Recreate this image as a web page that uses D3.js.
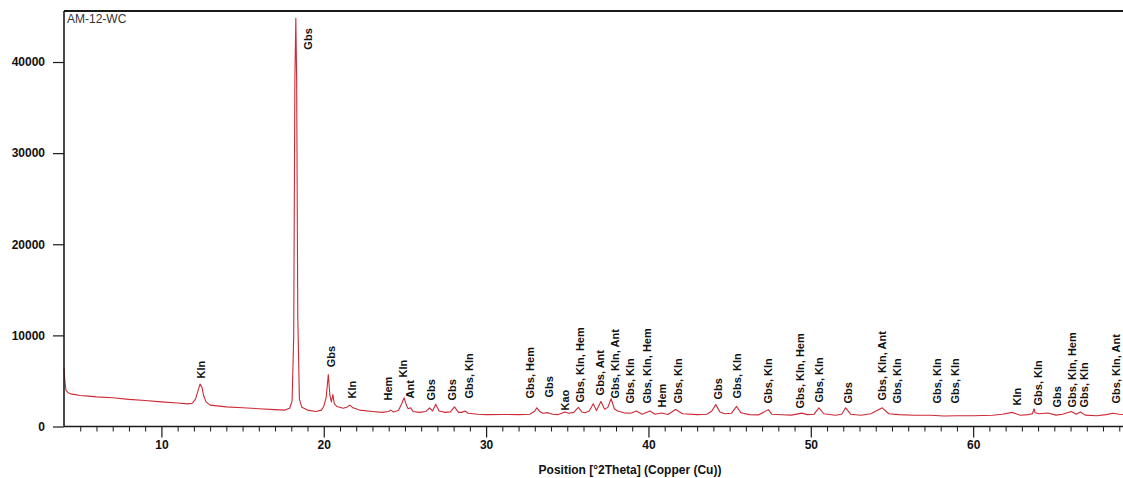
<!DOCTYPE html>
<html>
<head>
<meta charset="utf-8">
<script src="https://cdn.jsdelivr.net/npm/d3@7/dist/d3.min.js"></script>
<style>
  html, body { margin: 0; padding: 0; background: #ffffff; }
  svg { display: block; font-family: "Liberation Sans", Arial, sans-serif; }
</style>
</head>
<body>
<svg id="chart" width="1123" height="478"></svg>
<script>
// Diffractogram of sample AM-12-WC: position (°2θ) and intensity (counts)
const twoTheta = [
  4.0, 4.05, 4.12, 4.25, 4.5, 5.0, 5.5, 6.0, 7.0, 8.0, 9.0, 10.0, 11.0, 11.6, 11.9,
  12.1, 12.25, 12.38, 12.5, 12.6, 12.75, 13.0, 14.0, 15.0, 16.0, 17.0, 17.6, 17.9,
  18.05, 18.15, 18.22, 18.28, 18.33, 18.4, 18.5, 18.65, 19.0, 19.5, 19.85, 20.0,
  20.15, 20.28, 20.38, 20.47, 20.56, 20.65, 20.8, 21.2, 21.45, 21.6, 21.8, 22.2,
  23.0, 23.6, 24.0, 24.12, 24.3, 24.6, 24.8, 24.95, 25.1, 25.2, 25.35, 25.5, 25.9,
  26.3, 26.52, 26.7, 26.9, 27.1, 27.5, 27.8, 28.05, 28.3, 28.5, 28.7, 28.9, 29.5,
  30.0, 31.0, 32.0, 32.7, 33.0, 33.12, 33.3, 33.5, 33.8, 34.1, 34.4, 34.86, 35.1,
  35.4, 35.68, 35.9, 36.1, 36.35, 36.6, 36.8, 37.07, 37.3, 37.5, 37.7, 37.9, 38.1,
  38.5, 38.9, 39.26, 39.6, 40.1, 40.4, 40.8, 41.2, 41.67, 42.1, 43.0, 43.6, 43.9,
  44.15, 44.4, 44.7, 45.1, 45.43, 45.7, 46.2, 46.8, 47.38, 47.6, 48.2, 48.8, 49.45,
  49.8, 50.2, 50.5, 50.8, 51.5, 51.9, 52.15, 52.45, 53.1, 53.7, 54.4, 54.8, 55.4,
  56.4, 57.4, 58.2, 59.0, 60.0, 61.2, 61.8, 62.4, 62.9, 63.4, 63.65, 63.75, 63.82,
  64.05, 64.6, 65.1, 65.5, 66.05, 66.35, 66.6, 66.9, 67.6, 68.2, 68.6, 69.0, 69.3
];
const counts = [
  6400, 5000, 4000, 3700, 3550, 3400, 3330, 3250, 3150, 2980, 2850, 2700, 2580, 2480, 2550,
  3000, 3900, 4650, 4300, 3400, 2700, 2350, 2150, 2050, 1950, 1850, 1800, 2000,
  2800, 10000, 38000, 44800, 38000, 12000, 3000, 2100, 1800, 1650, 1800, 2200,
  3200, 5700, 3400, 2700, 3500, 2500, 2200, 2000, 2150, 2350, 2050, 1800,
  1650, 1550, 1650, 1800, 1600, 1750, 2500, 3150, 2300, 1950, 2050, 1650, 1550,
  1650, 2050, 1700, 2450, 1700, 1550, 1600, 2150, 1550, 1550, 1700, 1450, 1350,
  1300, 1320, 1300, 1350, 1700, 2050, 1650, 1450, 1520, 1350, 1300, 1600, 1450,
  1550, 2100, 1600, 1500, 1700, 2500, 1750, 2750, 1900, 2100, 3050, 1950, 1700,
  1500, 1450, 1700, 1350, 1700, 1350, 1480, 1320, 1870, 1400, 1300, 1350, 1700,
  2400, 1600, 1400, 1450, 2200, 1500, 1300, 1280, 1850, 1350, 1290, 1250, 1470,
  1300, 1350, 2050, 1400, 1230, 1350, 2050, 1350, 1230, 1400, 2050, 1400, 1300,
  1230, 1230, 1150, 1180, 1180, 1230, 1350, 1550, 1230, 1300, 1400, 1950, 1500,
  1400, 1480, 1250, 1350, 1650, 1350, 1600, 1250, 1180, 1300, 1450, 1350, 1300
];

// Phase identification labels
const peakNames = [
  "Kln", "Gbs", "Gbs", "Kln", "Hem", "Kln", "Ant", "Gbs", "Gbs", "Gbs, Kln",
  "Gbs, Hem", "Gbs", "Kao", "Gbs, Kln, Hem", "Gbs, Ant", "Gbs, Kln, Ant", "Gbs, Kln",
  "Gbs, Kln, Hem", "Hem", "Gbs, Kln", "Gbs", "Gbs, Kln", "Gbs, Kln", "Gbs, Kln, Hem",
  "Gbs, Kln", "Gbs", "Gbs, Kln, Ant", "Gbs, Kln", "Gbs, Kln", "Gbs, Kln", "Kln",
  "Gbs, Kln", "Gbs", "Gbs, Kln, Hem", "Gbs, Kln", "Gbs, Kln, Ant"
];
const peakAngles = [
  12.45, 19.05, 20.42, 21.75, 23.97, 24.89, 25.32, 26.6, 27.9, 28.93,
  32.72, 33.88, 34.86, 35.78, 37.02, 37.94, 38.86,
  39.9, 40.83, 41.82, 44.28, 45.45, 47.35, 49.32,
  50.49, 52.28, 54.37, 55.29, 57.75, 58.86, 62.68,
  63.97, 65.14, 66.06, 66.86, 68.83
];
// intensity level at which each label begins
const labelLevels = [
  5280, 41360, 6490, 3080, 2860, 5390, 3080, 2860, 2860, 3080,
  3080, 3190, 1760, 2640, 3410, 3080, 2530,
  2530, 2090, 2530, 2970, 3080, 2530, 1980,
  2640, 2530, 2860, 2530, 2530, 2530, 2310,
  2310, 2090, 2090, 2090, 2530
];

const xTicks = [10, 20, 30, 40, 50, 60];
const yTicks = [0, 10000, 20000, 30000, 40000];
const sampleName = "AM-12-WC";
const xTitle = "Position [°2Theta] (Copper (Cu))";

(function draw() {
  const W = 1123;
  const plotLeft = 64, plotTop = 11, plotBottom = 426.5, plotRight = W;
  const ink = "#1a1a1a";
  const fontFam = "'Liberation Sans', Arial, sans-serif";

  const svg = d3.select("#chart");

  const x = d3.scaleLinear().domain([4, 69.23]).range([plotLeft, plotRight]);
  const y = d3.scaleLinear().domain([0, 45600]).range([plotBottom, plotTop]);

  // pattern trace
  const pattern = twoTheta.map((t, i) => [t, counts[i]]);
  const line = d3.line().x(d => x(d[0])).y(d => y(d[1]));

  svg.append("path")
    .datum(pattern)
    .attr("d", line)
    .attr("fill", "none")
    .attr("stroke", "#cc2a36")
    .attr("stroke-width", 1.1)
    .attr("stroke-linejoin", "round");

  // top frame line
  svg.append("line")
    .attr("x1", plotLeft).attr("x2", plotRight)
    .attr("y1", plotTop).attr("y2", plotTop)
    .attr("stroke", ink).attr("stroke-width", 2);

  // x axis: minor ticks every degree, labelled majors every 10°
  const minorTicks = d3.range(5, 70).filter(v => v % 10 !== 0);
  const xAxisMinor = d3.axisBottom(x).tickValues(minorTicks).tickSize(5).tickFormat("");
  const xAxisMajor = d3.axisBottom(x).tickValues(xTicks).tickSize(11).tickPadding(3).tickFormat(d3.format("d"));

  const gxMinor = svg.append("g").attr("transform", `translate(0,${plotBottom})`).call(xAxisMinor);
  gxMinor.select(".domain").remove();
  gxMinor.selectAll("line").attr("stroke", ink).attr("stroke-width", 1);

  const gxMajor = svg.append("g").attr("transform", `translate(0,${plotBottom})`).call(xAxisMajor);
  gxMajor.select(".domain").attr("stroke", ink).attr("stroke-width", 1.6)
    .attr("d", `M${plotLeft},0H${plotRight}`);
  gxMajor.selectAll("line").attr("stroke", ink).attr("stroke-width", 1.2);
  gxMajor.selectAll("text")
    .attr("font-size", 12).attr("font-weight", "bold").attr("fill", "#111")
    .attr("font-family", fontFam);

  // y axis
  const yAxis = d3.axisLeft(y).tickValues(yTicks).tickSize(11).tickPadding(8).tickFormat(d3.format("d"));
  const gy = svg.append("g").attr("transform", `translate(${plotLeft},0)`).call(yAxis);
  gy.select(".domain").attr("stroke", ink).attr("stroke-width", 1.6)
    .attr("d", `M0,${plotTop}V${plotBottom}`);
  gy.selectAll("line").attr("stroke", ink).attr("stroke-width", 1.2);
  gy.selectAll("text")
    .attr("font-size", 12).attr("font-weight", "bold").attr("fill", "#111")
    .attr("font-family", fontFam);

  // axis title
  svg.append("text")
    .attr("x", 630).attr("y", 474)
    .attr("text-anchor", "middle")
    .attr("font-size", 12).attr("font-weight", "bold").attr("fill", "#111")
    .text(xTitle);

  // sample name
  svg.append("text")
    .attr("x", 67).attr("y", 23)
    .attr("font-size", 12).attr("fill", "#333")
    .text(sampleName);

  // vertical phase labels
  const labels = peakNames.map((n, i) => ({ name: n, angle: peakAngles[i], level: labelLevels[i] }));
  svg.append("g").selectAll("text")
    .data(labels)
    .join("text")
    .attr("transform", d => `translate(${x(d.angle)},${y(d.level)}) rotate(-90)`)
    .attr("dy", "0.36em")
    .attr("text-anchor", "start")
    .attr("font-size", 11).attr("font-weight", "bold").attr("fill", "#111")
    .text(d => d.name);
})();
</script>
</body>
</html>
